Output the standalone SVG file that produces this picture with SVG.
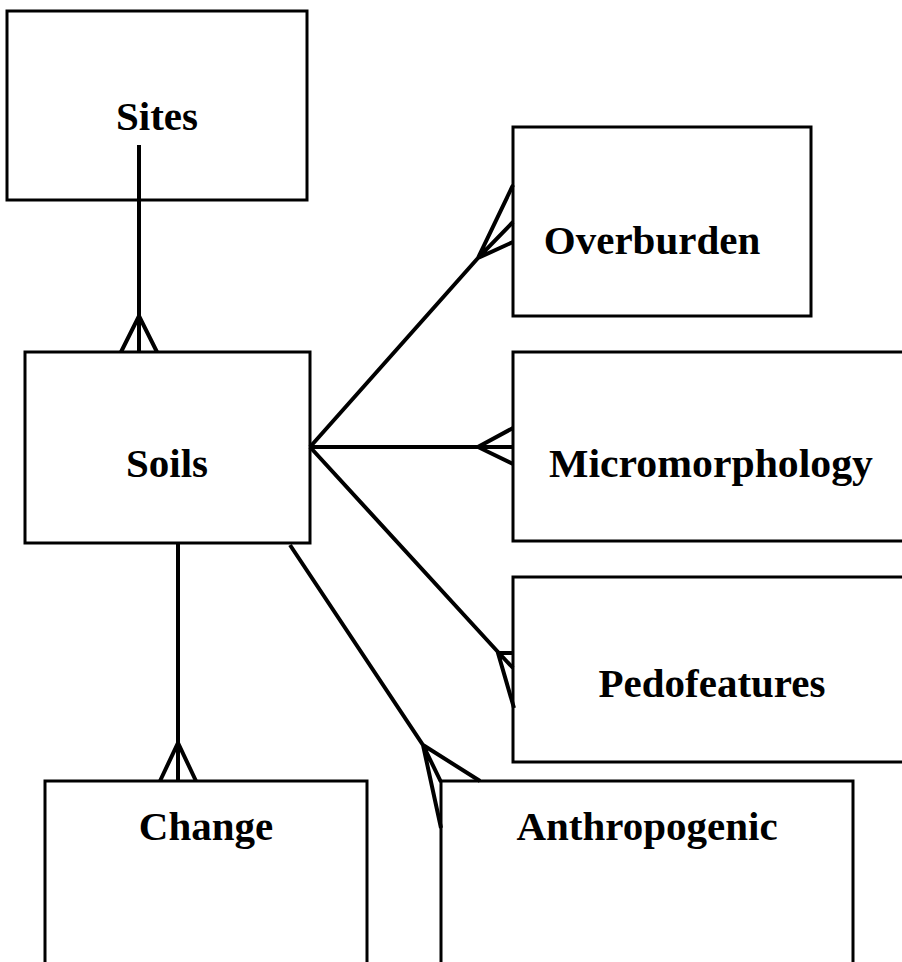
<svg xmlns="http://www.w3.org/2000/svg" width="902" height="962" viewBox="0 0 902 962">
<style>
.box{fill:#fff;stroke:#000;stroke-width:3}
.lbl{font-family:"Liberation Serif","Times New Roman",serif;font-weight:bold;font-size:41px;text-anchor:middle;fill:#000}
.ln{fill:none;stroke:#000;stroke-width:4;stroke-linejoin:miter}
</style>
<rect width="902" height="962" fill="#fff"/>
<g id="sites"><rect class="box" x="7" y="11" width="300" height="189"/><text class="lbl" x="157" y="130">Sites</text></g>
<g id="soils"><rect class="box" x="25" y="352" width="285" height="191"/><text class="lbl" x="167" y="477">Soils</text></g>
<g id="overburden"><rect class="box" x="513" y="127" width="298" height="189"/><text class="lbl" x="652" y="254">Overburden</text></g>
<g id="micromorphology"><path class="box" d="M905 352 H513 V541 H905"/><text class="lbl" x="711" y="477" textLength="324" lengthAdjust="spacingAndGlyphs">Micromorphology</text></g>
<g id="pedofeatures"><path class="box" d="M905 577 H513 V762 H905"/><text class="lbl" x="712" y="697">Pedofeatures</text></g>
<g id="change"><path class="box" d="M45 965 V781 H367 V965"/><text class="lbl" x="206" y="840">Change</text></g>
<g id="anthropogenic"><path class="box" d="M441 965 V781 H853 V965"/><text class="lbl" x="647" y="840">Anthropogenic</text></g>
<g id="connectors">
<path class="ln" d="M139 145 V352 M121 352 L139 316 L157 352"/>
<path class="ln" d="M310 447 L478 258 M513 185 L478 258 L513 222 M478 258 L513 242"/>
<path class="ln" d="M310 447 H513 M513 428 L478 447 L513 464"/>
<path class="ln" d="M310 447 L498 652 L513 668 M513 653 H498 L514 708"/>
<path class="ln" d="M178 543 V781 M160 781 L178 743 L196 781"/>
<path class="ln" d="M290 545 L423 745 L480 781 M423 745 L441 782 M423 745 L441 828"/>
</g>
</svg>
